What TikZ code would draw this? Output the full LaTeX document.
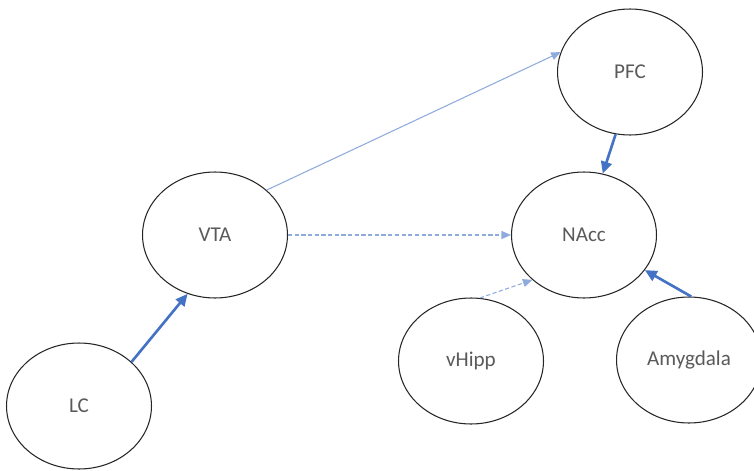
\documentclass[tikz,border=0pt]{standalone}
\usepackage{fontspec}
\setmainfont{Carlito}
\usetikzlibrary{arrows.meta,shapes.geometric}
\definecolor{offblue}{HTML}{4472C4}
\definecolor{paleblue}{HTML}{8FAADC}
\definecolor{labelgray}{HTML}{5A5A5A}
\tikzset{
  % regioner
  reg/.style={ellipse,draw=black!85,line width=0.6pt,fill=white,inner sep=0pt,
              minimum width=2.9cm,minimum height=2.52cm,
              font=\fontsize{12}{14}\selectfont,text=labelgray},
  % projektioner
  strong/.style={-{Triangle[length=2.4mm,width=2.2mm]},draw=offblue,line width=1.5pt},
  weak/.style={-{Triangle[length=1.9mm,width=1.6mm]},draw=paleblue,line width=0.6pt},
  weakd/.style={weak,dash pattern=on 2.4pt off 1.4pt},
}
\begin{document}
\begin{tikzpicture}[x=0.02cm,y=-0.02cm]
\useasboundingbox (0,0) rectangle (754,470);
  \node[reg] (pfc) at (630,72) {PFC};
  \node[reg] (vta) at (215,235) {VTA};
  \node[reg] (nacc) at (584,235) {NAcc};
  \node[reg] (vhipp) at (471,361) {vHipp};
  \node[reg] (amy) at (689,360) {Amygdala};
  \node[reg] (lc) at (79,406) {LC};
  \draw[strong] (lc.40) -- (vta.-115);
  \draw[weak] (vta.41) -- (pfc.164);
  \draw[weakd] (vta.east) -- (nacc.west);
  \draw[strong] (pfc.-103) -- (nacc.73);
  \draw[weakd] (vhipp.82) -- (nacc.-139);
  \draw[strong] (amy.88) -- (nacc.-30);
\end{tikzpicture}
\end{document}
